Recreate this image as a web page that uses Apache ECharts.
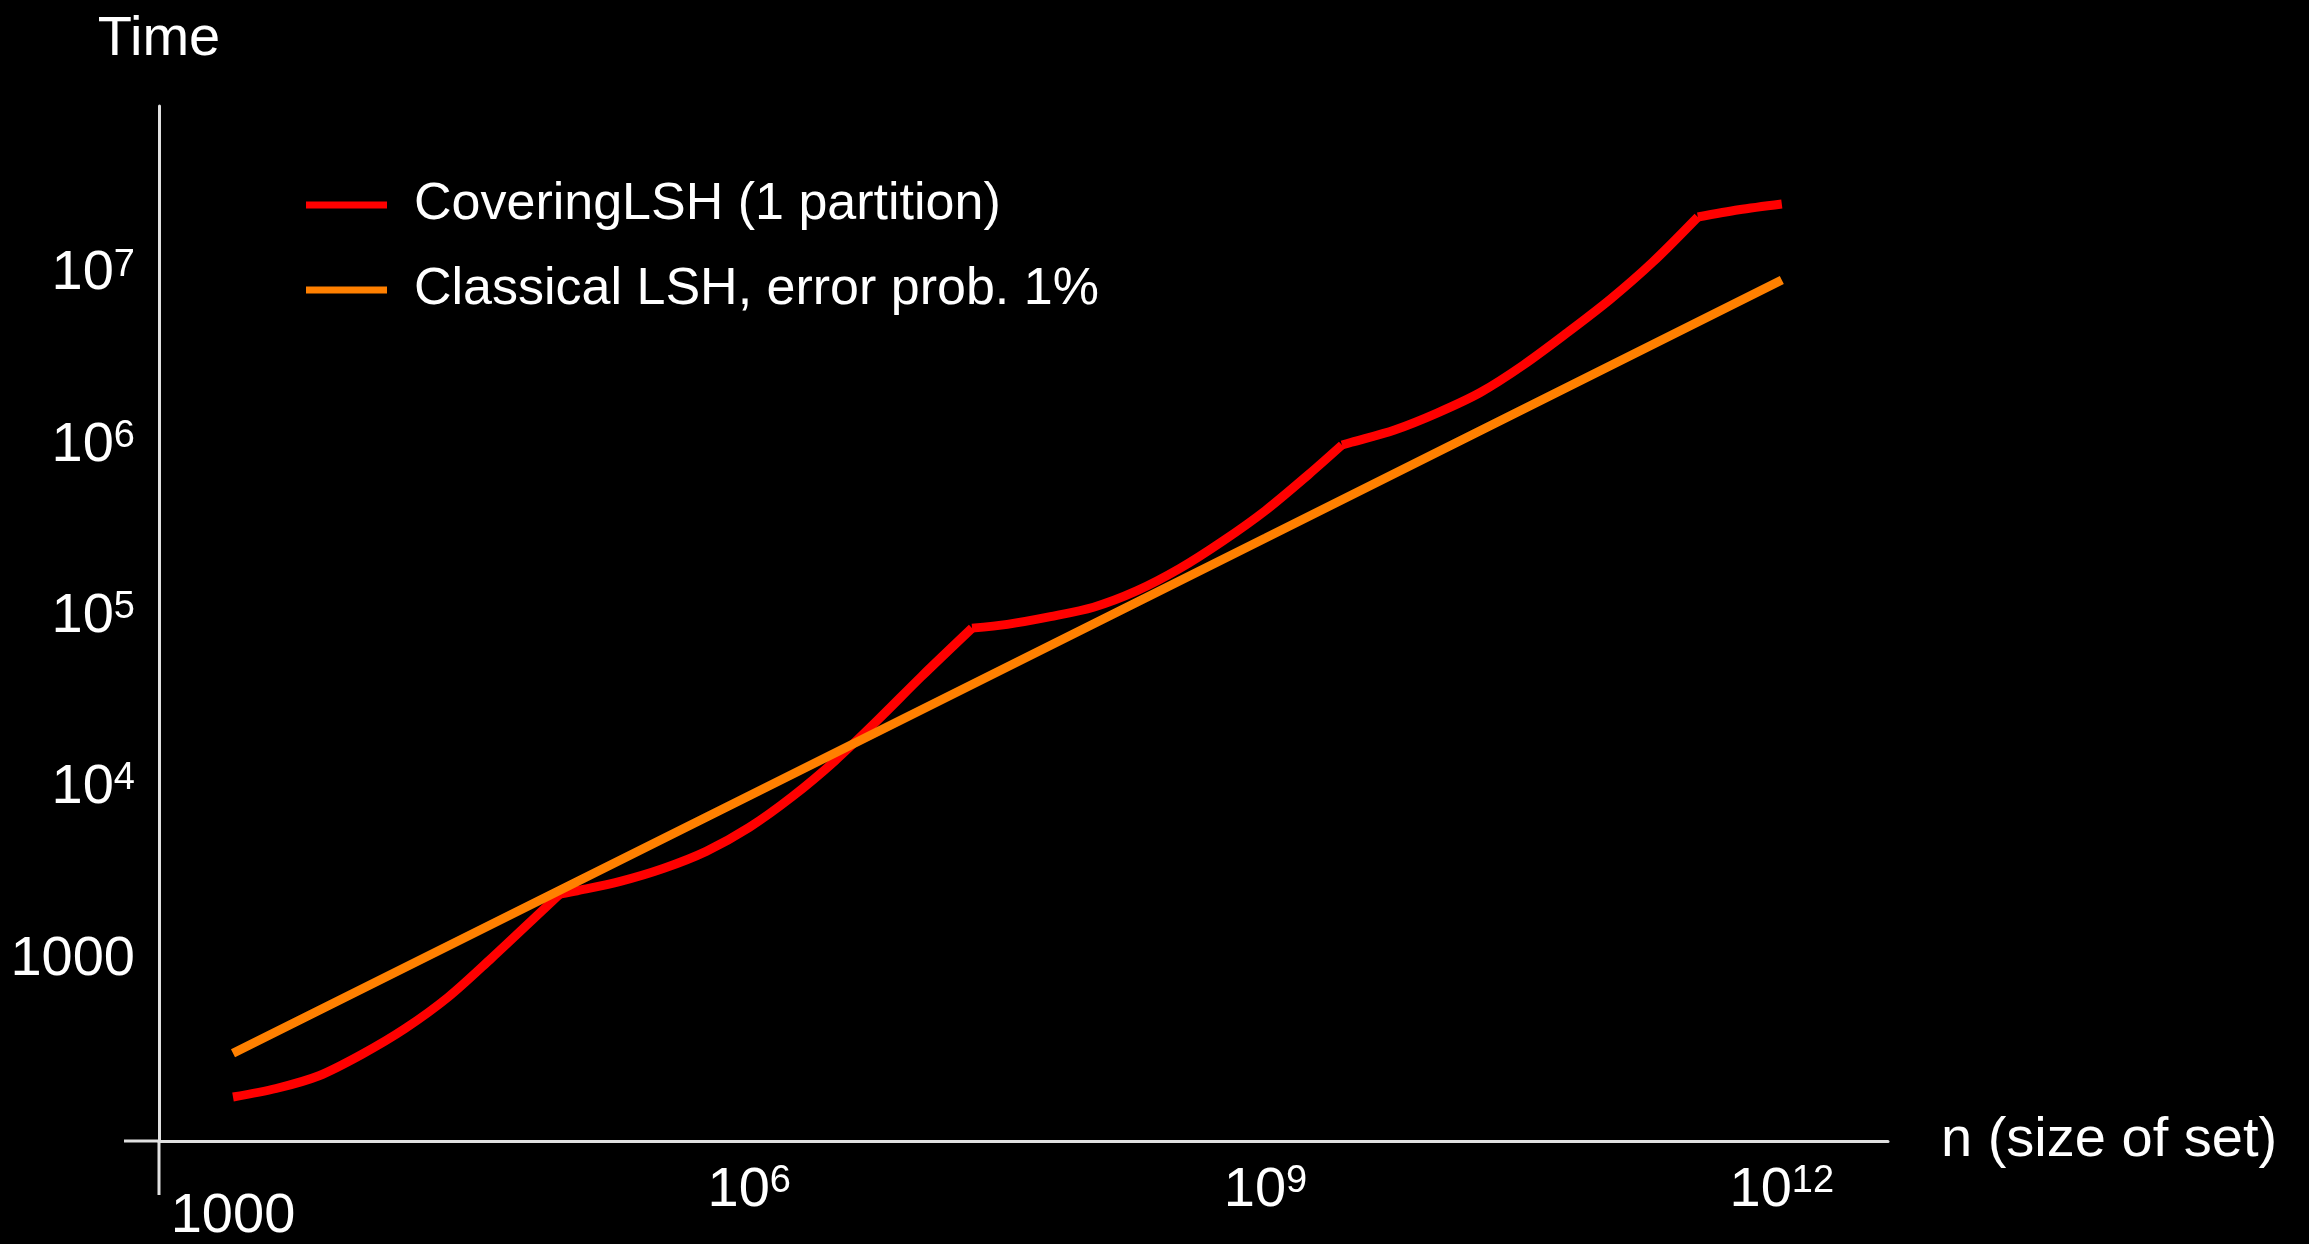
<!DOCTYPE html>
<html lang="en">

<head>
  <meta charset="UTF-8">
  <title>CoveringLSH vs Classical LSH</title>
  <script src="https://cdn.jsdelivr.net/npm/echarts@6.0.0/dist/echarts.min.js"></script>
  <style>
    html, body { margin: 0; padding: 0; background: #000; }
    #main { position: absolute; left: 0; top: 0; width: 2309px; height: 1244px; }
  </style>
</head>

<body>
  <div id="main"></div>
  <script>
    // data
    var seriesNames = ['CoveringLSH (1 partition)', 'Classical LSH, error prob. 1%']
    var coverN = [1e3, 1.78e3, 3.16e3, 5.62e3, 1e4, 1.78e4, 3.16e4, 5.62e4, 7.94e4,
      1e5, 1.78e5, 3.16e5, 5.62e5, 1e6, 1.78e6, 3.16e6, 5.62e6, 1e7, 1.97e7,
      3.16e7, 5.62e7, 1e8, 1.78e8, 3.16e8, 5.62e8, 1e9, 1.78e9, 2.78e9,
      3.16e9, 5.62e9, 1e10, 1.78e10, 3.16e10, 5.62e10, 1e11, 1.78e11, 3.25e11, 5.62e11, 1e12]
    var coverTime = [157, 176, 209, 279, 394, 601, 1009, 1734, 2404,
      2512, 2851, 3388, 4266, 5888, 8913, 14454, 25119, 44668, 85700,
      90157, 100000, 113500, 141250, 190550, 275420, 416870, 676080, 1004600,
      1042000, 1230000, 1549000, 2042000, 2951000, 4519000, 7079000, 11750000, 21530000, 23710000, 25640000]
    // indexes in coverN where the curve has a corner
    var coverKinks = [0, 8, 18, 27, 36, 38]
    var classicN = [1e3, 1e6, 1e9, 1e12]
    var classicTime = [283, 9016, 288000, 9230000]
    var xTicks = [1e3, 1e6, 1e9, 1e12]
    var yTicks = [1e3, 1e4, 1e5, 1e6, 1e7]

    var font = "'Liberation Sans', Arial, sans-serif"
    var axisColor = '#e0e0e0'
    // plot box in pixels
    var boxLeft = 159, boxRight = 1888, boxTop = 106, boxBottom = 1141

    function pow10Label(v, lowPlain) {
      var e = Math.round(Math.log10(v))
      if (e === 3) return lowPlain ? '{low|1000}' : '{b|1000}'
      return '{b|10}{s|' + e + '}'
    }

    var richBase = {
      b: { fontSize: 56, lineHeight: 56, color: '#fff', fontFamily: font },
      s: { fontSize: 38, lineHeight: 27, verticalAlign: 'top', color: '#fff', fontFamily: font },
      low: { fontSize: 56, lineHeight: 56, padding: [52, 0, 0, 0], color: '#fff', fontFamily: font }
    }

    // red curve: one smooth piece between each pair of corners
    var coverSeries = []
    for (var k = 0; k < coverKinks.length - 1; k++) {
      var pts = []
      for (var i = coverKinks[k]; i <= coverKinks[k + 1]; i++) pts.push([coverN[i], coverTime[i]])
      coverSeries.push({
        name: seriesNames[0],
        type: 'line',
        data: pts,
        smooth: 0.3,
        showSymbol: false,
        symbol: 'none',
        color: '#ff0000',
        lineStyle: { width: 9, color: '#ff0000', join: 'round' }
      })
    }

    var myChart = echarts.init(document.getElementById('main'))
    var option = {
      backgroundColor: '#000',
      animation: false,
      grid: {
        left: boxLeft,
        right: 2309 - boxRight,
        top: boxTop,
        bottom: 1244 - boxBottom,
        outerBoundsMode: 'none'
      },
      legend: {
        orient: 'vertical',
        left: 301,
        top: 172,
        icon: 'rect',
        itemWidth: 81,
        itemHeight: 7,
        itemGap: 29,
        data: seriesNames,
        textStyle: {
          color: '#fff',
          fontSize: 52,
          lineHeight: 56,
          fontFamily: font,
          padding: [0, 0, 0, 22]
        }
      },
      xAxis: {
        type: 'log',
        min: Math.pow(10, 2.57),
        max: Math.pow(10, 12.617),
        name: 'n (size of set)',
        nameLocation: 'end',
        nameGap: 53,
        nameTextStyle: { color: '#fff', fontSize: 56, fontFamily: font },
        axisLine: { onZero: false, lineStyle: { color: axisColor, width: 3 } },
        axisTick: { show: false },
        splitLine: { show: false },
        minorTick: { show: false },
        axisLabel: {
          customValues: xTicks,
          margin: 22,
          formatter: function (v) { return pow10Label(v, true) },
          rich: richBase
        }
      },
      yAxis: {
        type: 'log',
        min: Math.pow(10, 1.939),
        max: Math.pow(10, 7.981),
        name: 'Time',
        nameLocation: 'end',
        nameGap: 38,
        nameTextStyle: { color: '#fff', fontSize: 56, lineHeight: 56, fontFamily: font, align: 'center' },
        axisLine: { onZero: false, lineStyle: { color: axisColor, width: 3 } },
        axisTick: { show: false },
        splitLine: { show: false },
        axisLabel: {
          customValues: yTicks,
          margin: 24,
          formatter: function (v) { return pow10Label(v, false) },
          rich: richBase
        }
      },
      series: coverSeries.concat([
        {
          name: seriesNames[1],
          type: 'line',
          data: classicN.map((n, i) => [n, classicTime[i]]),
          showSymbol: false,
          symbol: 'none',
          color: '#ff8000',
          lineStyle: { width: 9, color: '#ff8000' }
        }
      ]),
      graphic: [
        // axis lines run a little past the crossing point
        {
          type: 'line',
          shape: { x1: 124, y1: boxBottom, x2: boxLeft, y2: boxBottom },
          style: { stroke: axisColor, lineWidth: 3 }
        },
        {
          type: 'line',
          shape: { x1: boxLeft, y1: boxBottom, x2: boxLeft, y2: 1195 },
          style: { stroke: axisColor, lineWidth: 3 }
        }
      ]
    }
    myChart.setOption(option)
  </script>
</body>

</html>
